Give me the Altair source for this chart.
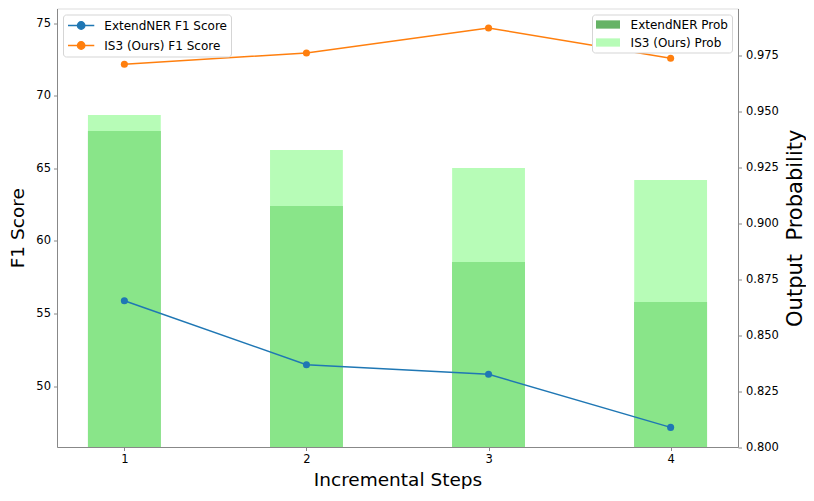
import altair as alt
import pandas as pd

steps = [1, 2, 3, 4]
extend_f1 = [55.87, 51.47, 50.81, 47.15]
is3_f1 = [72.16, 72.94, 74.66, 72.57]
extend_prob = [0.9413, 0.9078, 0.8827, 0.8648]
is3_prob = [0.9485, 0.9328, 0.9248, 0.9194]

line_names = ["ExtendNER F1 Score", "IS3 (Ours) F1 Score"]
bar_names = ["ExtendNER Prob", "IS3 (Ours) Prob"]

f1_df = pd.DataFrame(
    [{"step": s, "f1": v, "series": line_names[0]} for s, v in zip(steps, extend_f1)]
    + [{"step": s, "f1": v, "series": line_names[1]} for s, v in zip(steps, is3_f1)]
)
prob_df = pd.DataFrame(
    [{"step": s, "prob": v, "series": bar_names[0]} for s, v in zip(steps, extend_prob)]
    + [{"step": s, "prob": v, "series": bar_names[1]} for s, v in zip(steps, is3_prob)]
)

FONT = "DejaVu Sans"
x_scale = alt.Scale(domain=[0.63, 4.37], nice=False, zero=False)
x_axis = alt.Axis(values=steps, format="d", title="Incremental Steps", grid=False,
                  titleFontSize=18.5, titleFontWeight="normal", titlePadding=5,
                  labelFontSize=11.5, tickSize=3.5, labelPadding=3)

line_sym = "M-1,0L3.38,0M0.58,0A0.61,0.61,0,1,1,1.8,0A0.61,0.61,0,1,1,0.58,0Z"
bar_sym = "M-1,-0.69L3,-0.69L3,0.69L-1,0.69Z"

legend_common = dict(title=None, labelFontSize=12, labelFont=FONT, padding=4,
                     strokeColor="#d5d5d5", fillColor="white", cornerRadius=3,
                     offset=6, symbolSize=144, rowPadding=6, labelLimit=300)

bar_legend = alt.Legend(orient="top-right", symbolType=bar_sym, symbolStrokeWidth=0,
                        symbolOpacity=1, labelOffset=22.6, **legend_common)

bars = alt.Chart(prob_df).transform_calculate(
    x0="datum.step - 0.2", x1="datum.step + 0.2", base="0.8"
).mark_bar(opacity=1).encode(
    x=alt.X("x0:Q", scale=x_scale, axis=x_axis),
    x2="x1:Q",
    y=alt.Y("prob:Q", scale=alt.Scale(domain=[0.8, 0.9961], nice=False, zero=False),
            axis=alt.Axis(orient="right", values=[0.8, 0.825, 0.85, 0.875, 0.9, 0.925, 0.95, 0.975],
                          format=".3f", title="Output\u00a0\u00a0Probability", titleAngle=270,
                          titleBaseline="top",
                          titleFontSize=21, titleFontWeight="normal", titlePadding=6,
                          labelFontSize=11.5, tickSize=3.5, labelPadding=4, grid=False)),
    y2="base:Q",
    color=alt.Color("series:N",
                    scale=alt.Scale(domain=bar_names,
                                    range=["rgba(0,128,0,0.6)", "rgba(152,251,152,0.7)"]),
                    legend=bar_legend),
)

line_legend = alt.Legend(orient="top-left", symbolType=line_sym, symbolStrokeWidth=1.5,
                         labelOffset=23.3, **legend_common)

lines = alt.Chart(f1_df).mark_line(
    strokeWidth=1.5, point=alt.OverlayMarkDef(filled=True, size=50)
).encode(
    x=alt.X("step:Q", scale=x_scale, axis=x_axis),
    y=alt.Y("f1:Q", scale=alt.Scale(domain=[45.8, 76.0], nice=False, zero=False),
            axis=alt.Axis(orient="left", values=[50, 55, 60, 65, 70, 75], format="d",
                          title="F1 Score", titleFontSize=18.5, titleFontWeight="normal",
                          titlePadding=8, labelFontSize=11.5, tickSize=3.5, labelPadding=3,
                          grid=False)),
    color=alt.Color("series:N", scale=alt.Scale(domain=line_names, range=["#1f77b4", "#ff7f0e"]),
                    legend=line_legend),
)

chart = alt.layer(bars, lines).resolve_scale(
    y="independent", color="independent"
).resolve_legend(color="independent").properties(
    width=681, height=438.5,
    padding={"left": 0, "top": 0.5, "right": 0, "bottom": 0},
).configure_view(stroke="black", strokeWidth=1).configure_axis(
    labelFont=FONT, titleFont=FONT, labelColor="black", titleColor="black",
    domainColor="black", tickColor="black", domainWidth=1, tickWidth=1,
).configure(font=FONT)

chart.save("out.html", embed_options={"renderer": "svg", "actions": False})
